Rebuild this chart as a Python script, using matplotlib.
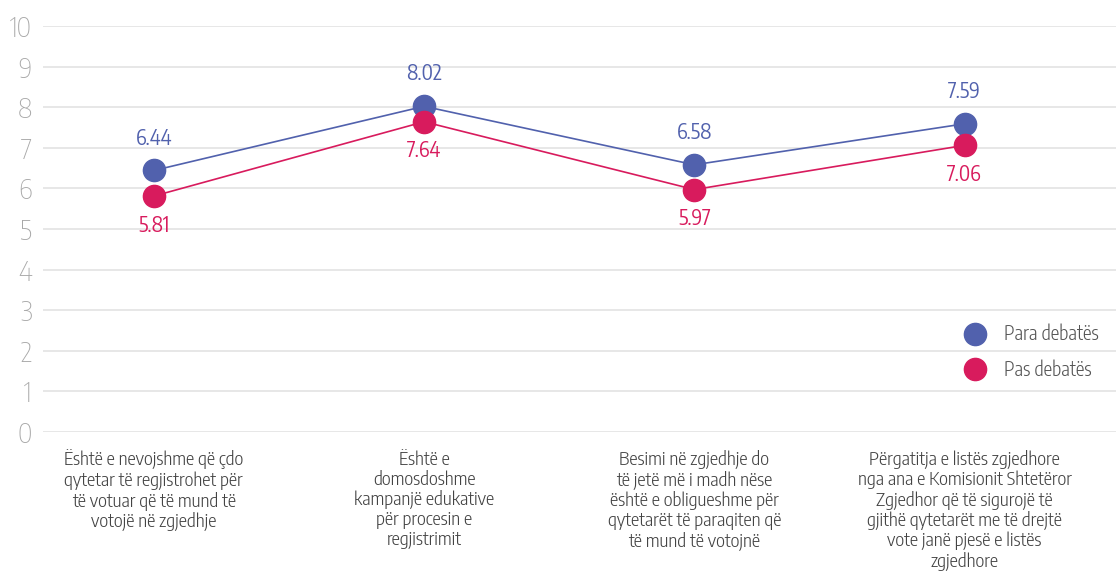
import matplotlib
matplotlib.use("Agg")
import matplotlib.pyplot as plt

plt.rcParams['font.family'] = ['Encode Sans Condensed', 'DejaVu Sans']

categories = [
    "Është e nevojshme që çdo\nqytetar të regjistrohet për\ntë votuar që të mund të\nvotojë në zgjedhje",
    "Është e\ndomosdoshme\nkampanjë edukative\npër procesin e\nregjistrimit",
    "Besimi në zgjedhje do\ntë jetë më i madh nëse\nështë e obligueshme për\nqytetarët të paraqiten që\ntë mund të votojnë",
    "Përgatitja e listës zgjedhore\nnga ana e Komisionit Shtetëror\nZgjedhor që të sigurojë të\ngjithë qytetarët me të drejtë\nvote janë pjesë e listës\nzgjedhore",
]
para = [6.44, 8.02, 6.58, 7.59]
pas = [5.81, 7.64, 5.97, 7.06]

blue = "#5161ad"
red = "#d81b5d"

fig = plt.figure(figsize=(11.16, 5.76), dpi=100)
ax = fig.add_axes([0.0385, 0.25, 0.9615, 0.705])

x = list(range(len(categories)))
ax.plot(x, para, color=blue, lw=1.2, marker='o', ms=16, label="Para debatës", zorder=3)
ax.plot(x, pas, color=red, lw=1.2, marker='o', ms=16, label="Pas debatës", zorder=3)

for i in x:
    ax.annotate(f"{para[i]:.2f}", (i, para[i]), xytext=(0, 15), textcoords='offset points',
                ha='center', va='bottom', color=blue, fontsize=15, fontweight=400)
    ax.annotate(f"{pas[i]:.2f}", (i, pas[i]), xytext=(0, -13), textcoords='offset points',
                ha='center', va='top', color=red, fontsize=15, fontweight=400)

ax.set_ylim(0, 10)
ax.set_xlim(-0.41, 3.56)
ax.set_yticks(range(0, 11))
ax.yaxis.grid(True, color="#e3e3e3", lw=1.2)
ax.set_axisbelow(True)
for s in ax.spines.values():
    s.set_visible(False)
ax.tick_params(axis='y', length=0, pad=8, labelsize=20, labelcolor="#a8a8a8")
ax.tick_params(axis='x', length=0, pad=13)
ax.set_xticks(x)
ax.set_xticklabels(categories, fontsize=13.5, color="#444444", linespacing=1.1,
                   fontweight=300)
for t in ax.get_yticklabels():
    t.set_fontweight(250)

leg = ax.legend(loc='lower right', bbox_to_anchor=(1.0, 0.085), frameon=False,
                prop={'size': 14, 'weight': 300}, labelcolor="#555555",
                handlelength=1.0, handletextpad=1.0, labelspacing=0.8)
for line in leg.get_lines():
    line.set_linestyle('')

fig.savefig("out.png", dpi=100)
